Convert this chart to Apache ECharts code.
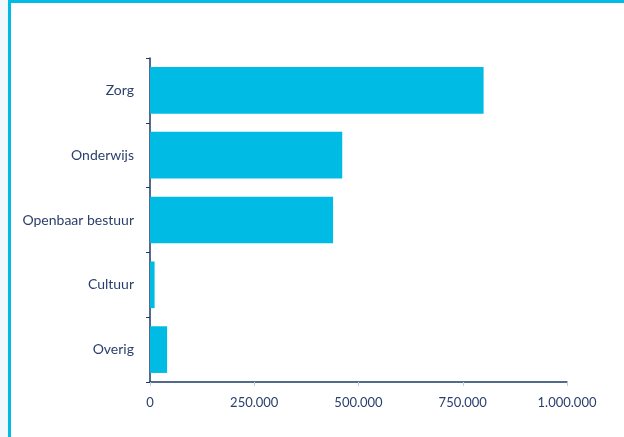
<!DOCTYPE html>
<html>
<head>
<meta charset="utf-8">
<script src="https://cdn.jsdelivr.net/npm/echarts@6/dist/echarts.min.js"></script>
<style>
  html, body { margin: 0; padding: 0; background: #fff; }
  #frame {
    position: absolute; left: 0; top: 0; width: 624px; height: 437px;
    background: #f1f9fd;
  }
  #inner {
    position: absolute; left: 8px; top: 0; right: 0; bottom: 0;
    border-left: 3px solid #00bbe3;
    border-top: 3px solid #00bbe3;
    background: #fff;
  }
  #chart { position: absolute; left: 0; top: 0; width: 624px; height: 437px; }
</style>
</head>
<body>
<div id="frame"><div id="inner"></div></div>
<div id="chart"></div>
<script>
// sectoren
const categories = ['Zorg', 'Onderwijs', 'Openbaar bestuur', 'Cultuur', 'Overig'];
const values = [800000, 461000, 439000, 11000, 41000];
const xTicks = [0, 250000, 500000, 750000, 1000000];

const navy = '#1c3966';
const textColor = '#2a3f6c';

function dutchNumber(v) {
  return String(v).replace(/\B(?=(\d{3})+(?!\d))/g, '.');
}

const chart = echarts.init(document.getElementById('chart'), null, { renderer: 'canvas' });

chart.setOption({
  animation: false,
  grid: { left: 150, right: 57, top: 58, bottom: 55, containLabel: false },
  xAxis: {
    type: 'value',
    min: xTicks[0],
    max: xTicks[xTicks.length - 1],
    interval: xTicks[1] - xTicks[0],
    axisLine: { show: true, lineStyle: { color: navy, width: 1.5 } },
    axisTick: { show: true, length: 4, lineStyle: { color: '#c4ccd8' } },
    splitLine: { show: false },
    axisLabel: {
      color: textColor,
      fontFamily: 'Lato',
      fontSize: 13,
      margin: 14,
      formatter: dutchNumber
    }
  },
  yAxis: {
    type: 'category',
    data: categories,
    inverse: true,
    axisLine: { show: true, lineStyle: { color: navy, width: 1.5 } },
    axisTick: { show: true, length: 4, lineStyle: { color: navy } },
    axisLabel: {
      color: textColor,
      fontFamily: 'Lato',
      fontSize: 14,
      margin: 16
    }
  },
  series: [{
    type: 'bar',
    data: values,
    barCategoryGap: '28%',
    itemStyle: { color: '#00bbe3' }
  }]
});
</script>
</body>
</html>
